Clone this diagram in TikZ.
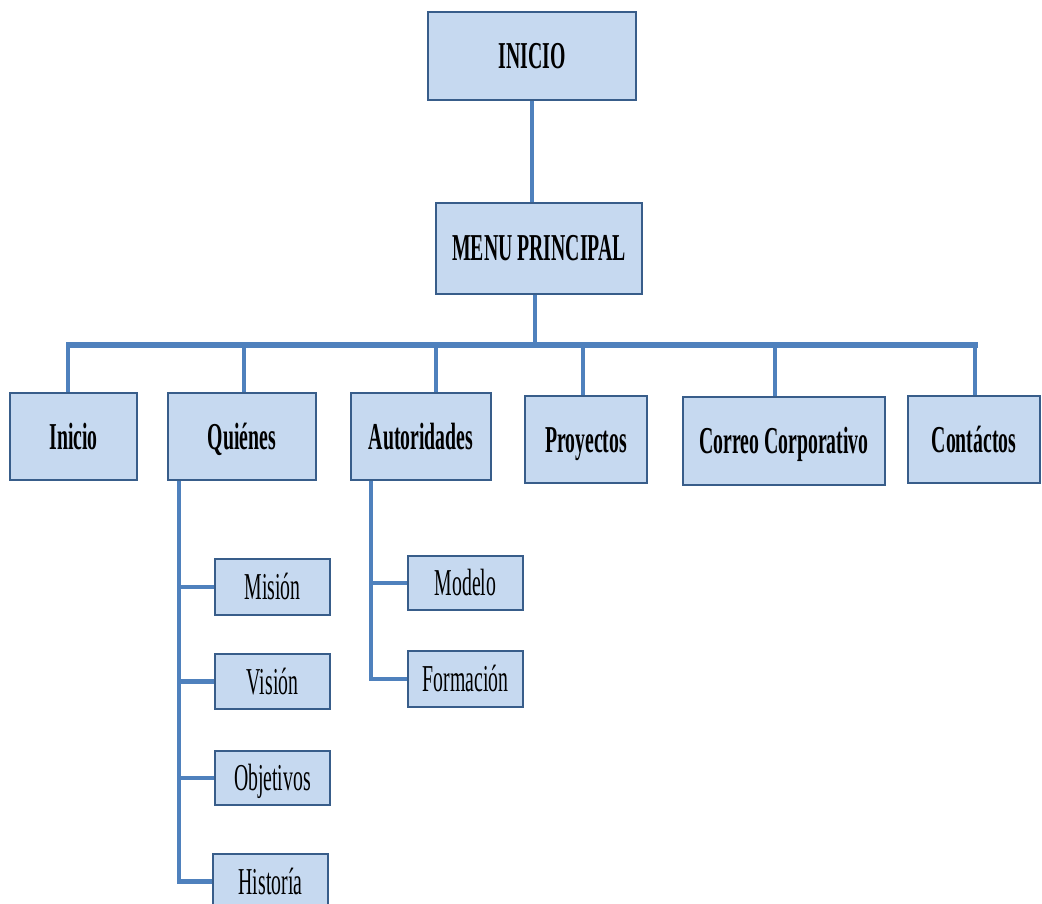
\documentclass[tikz,border=0pt]{standalone}
\usepackage{fontspec}
\setmainfont{Liberation Serif}[FakeStretch=0.52]
\definecolor{boxfill}{RGB}{198,217,240}
\definecolor{boxedge}{RGB}{56,93,138}
\definecolor{wirecol}{RGB}{79,129,189}
\begin{document}
\begin{tikzpicture}[x=1pt,y=-1pt,
  box/.style={draw=boxedge, line width=1.8pt, fill=boxfill, inner sep=0pt,
    text height=25pt, text depth=0pt,
    font=\fontsize{38}{40}\selectfont\bfseries},
  subbox/.style={box, minimum width=115pt,
    font=\fontsize{38}{40}\selectfont},
  wire/.style={draw=wirecol, line width=4.5pt},
  bus/.style={draw=wirecol, line width=6pt},
]
\useasboundingbox (0,0) rectangle (1042,904);
\clip (0,0) rectangle (1042,904);

% top levels
\node[box, minimum width=208pt, minimum height=88pt] (top) at (532,56) {INICIO};
\node[box, minimum width=206pt, minimum height=91pt] (menu) at (539,248.5) {MENU PRINCIPAL};

% menu entries
\node[box, minimum width=127pt, minimum height=87pt] (ini) at (73.5,436.5) {Inicio};
\node[box, minimum width=148pt, minimum height=87pt] (qui) at (242,436.5) {Quiénes};
\node[box, minimum width=140pt, minimum height=87pt] (aut) at (421,436.5) {Autoridades};
\node[box, minimum width=122pt, minimum height=87pt] (pro) at (586,439.5) {Proyectos};
\node[box, minimum width=202pt, minimum height=88pt] (cor) at (784,441) {Correo Corporativo};
\node[box, minimum width=132pt, minimum height=87pt] (con) at (974,439.5) {Contáctos};

% Quiénes sub-pages
\node[subbox, minimum height=56pt] (mis) at (272.5,587) {Misión};
\node[subbox, minimum height=55pt] (vis) at (272.5,681.5) {Visión};
\node[subbox, minimum height=54pt] (obj) at (272.5,778) {Objetivos};
\node[subbox, minimum height=55pt] (his) at (270.5,881.5) {Historía};

% Autoridades sub-pages
\node[subbox, minimum height=54pt] (mod) at (465.5,583) {Modelo};
\node[subbox, minimum height=56pt] (for) at (465.5,679) {Formación};

% trunk
\draw[wire] (top.south) -- (top.south |- menu.north);
\coordinate (hub) at (535,345);
\draw[wire] (menu.south -| hub) -- (hub);

% horizontal bus and drops
\coordinate (busL) at (66,345);
\coordinate (busR) at (978,345);
\draw[bus] (busL) -- (busR);
\coordinate (d1) at (68,345);
\coordinate (d2) at (244,345);
\coordinate (d3) at (436,345);
\coordinate (d4) at (583,345);
\coordinate (d5) at (775,345);
\coordinate (d6) at (975,345);
\draw[wire] (d1) -- (d1 |- ini.north);
\draw[wire] (d2) -- (d2 |- qui.north);
\draw[wire] (d3) -- (d3 |- aut.north);
\draw[wire] (d4) -- (d4 |- pro.north);
\draw[wire] (d5) -- (d5 |- cor.north);
\draw[wire] (d6) -- (d6 |- con.north);

% Quiénes spine
\coordinate (qs) at (179,0);
\draw[wire] (qs |- qui.south) |- (his.west);
\draw[wire] (qs |- mis.west) -- (mis.west);
\draw[wire] (qs |- vis.west) -- (vis.west);
\draw[wire] (qs |- obj.west) -- (obj.west);

% Autoridades spine
\coordinate (as) at (371,0);
\draw[wire] (as |- aut.south) |- (for.west);
\draw[wire] (as |- mod.west) -- (mod.west);
\end{tikzpicture}
\end{document}
